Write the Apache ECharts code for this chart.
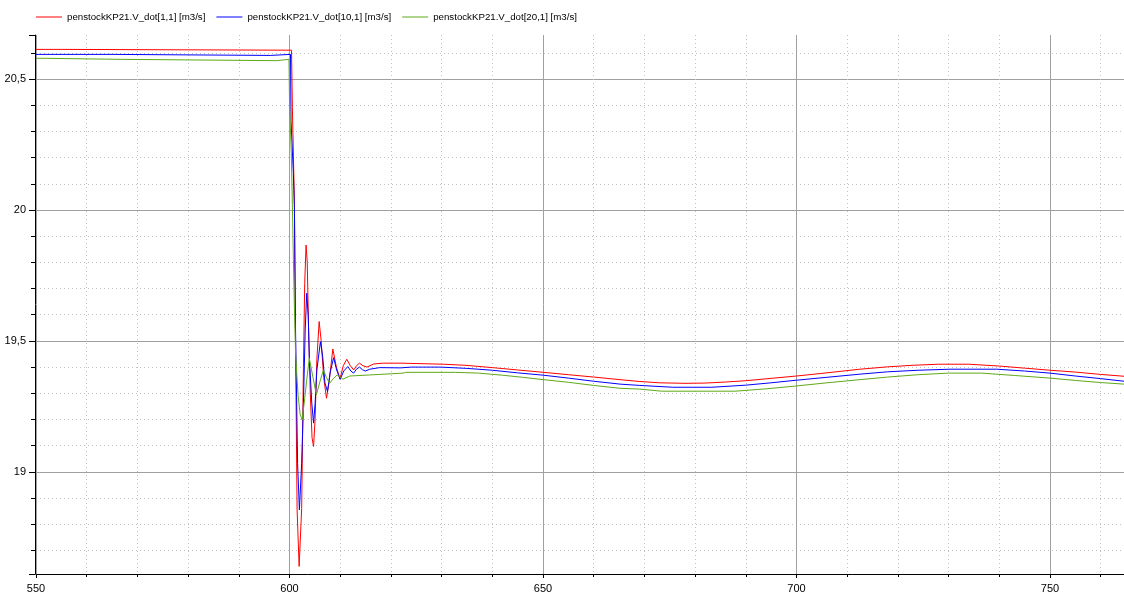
<!DOCTYPE html>
<html>
<head>
<meta charset="utf-8">
<script src="https://cdn.jsdelivr.net/npm/echarts@6/dist/echarts.min.js"></script>
<style>
  html, body { margin: 0; padding: 0; background: #fff; }
  #chart { width: 1124px; height: 596px; }
</style>
</head>
<body>
<div id="chart"></div>
<script>
// series names as in the legend
const seriesNames = [
  'penstockKP21.V_dot[1,1] [m3/s]',
  'penstockKP21.V_dot[10,1] [m3/s]',
  'penstockKP21.V_dot[20,1] [m3/s]'
];
const seriesColors = ['#ff0000', '#0000ff', '#5fa818'];

// [time s, flow m3/s]
const flowNode1 = [
  [550, 20.613], [555.3, 20.613], [555.4, 20.610], [600.4, 20.610], [600.5, 20.612],
  [600.57, 20.39], [600.97, 20.03], [601.16, 19.56], [601.5, 18.855], [601.9, 18.639],
  [602.2, 18.639], [602.4, 18.86], [602.75, 19.40], [603.0, 19.72], [603.27, 19.866],
  [603.5, 19.80], [603.75, 19.56], [604.1, 19.30], [604.45, 19.13], [604.75, 19.097],
  [605.05, 19.20], [605.4, 19.43], [605.85, 19.574], [606.25, 19.50], [606.75, 19.36],
  [607.3, 19.281], [607.85, 19.35], [608.55, 19.469], [609.25, 19.40], [609.95, 19.354],
  [610.6, 19.405], [611.3, 19.430], [612.0, 19.405], [612.65, 19.389], [613.3, 19.407],
  [613.8, 19.415], [614.5, 19.405], [615.3, 19.400], [616.6, 19.412], [618.5, 19.415],
  [622, 19.415], [630.3, 19.411], [634.6, 19.407], [640, 19.398], [645, 19.389],
  [650.1, 19.380], [655, 19.371], [660, 19.362], [665.2, 19.352], [669.1, 19.345],
  [673, 19.340], [678, 19.338], [682, 19.339], [686, 19.343], [690, 19.348],
  [695, 19.357], [700, 19.366], [705, 19.376], [712.5, 19.392], [718, 19.401],
  [723, 19.407], [728, 19.411], [734, 19.411], [740, 19.404], [745, 19.396],
  [750, 19.388], [755, 19.381], [760, 19.372], [764.6, 19.365]
];

const flowNode10 = [
  [550, 20.594], [565, 20.594], [565.1, 20.590], [596.2, 20.590], [596.3, 20.594],
  [600.2, 20.594], [600.3, 20.34], [600.76, 20.14], [600.97, 20.01], [601.16, 19.58],
  [601.6, 19.033], [601.95, 18.855], [602.3, 18.855], [602.4, 19.033], [602.75, 19.262],
  [603.1, 19.542], [603.4, 19.682], [603.7, 19.593], [603.9, 19.440], [604.4, 19.262],
  [604.75, 19.186], [605.05, 19.262], [605.4, 19.389], [606.1, 19.497], [606.55, 19.440],
  [607.0, 19.339], [607.5, 19.307], [608.0, 19.377], [608.7, 19.436], [609.3, 19.389],
  [610.0, 19.354], [610.7, 19.385], [611.5, 19.402], [612.1, 19.385], [612.65, 19.377],
  [613.2, 19.392], [613.8, 19.400], [614.4, 19.390], [614.95, 19.385], [615.85, 19.392],
  [617.8, 19.398], [621.9, 19.397], [624, 19.400], [629.8, 19.400], [635, 19.395],
  [640, 19.388], [645, 19.378], [650.1, 19.369], [655, 19.358], [660, 19.346],
  [665.2, 19.335], [669.1, 19.330], [675.6, 19.323], [683.3, 19.323], [690, 19.331],
  [695, 19.340], [700, 19.350], [706, 19.361], [712.5, 19.373], [718, 19.382],
  [724, 19.388], [730.3, 19.392], [739.5, 19.392], [745, 19.385], [750, 19.377],
  [755, 19.366], [760, 19.356], [764.6, 19.346]
];

const flowNode20 = [
  [550, 20.579], [551.8, 20.579], [551.9, 20.575], [566.9, 20.575], [567, 20.570],
  [597.5, 20.570], [597.6, 20.575], [599.9, 20.575], [600.0, 20.413], [600.35, 20.218],
  [600.57, 20.02], [600.77, 19.81], [600.97, 19.626], [601.2, 19.45], [601.7, 19.29],
  [602.1, 19.22], [602.5, 19.198], [603.0, 19.28], [603.4, 19.351], [603.9, 19.434],
  [604.35, 19.389], [605.3, 19.294], [606.1, 19.351], [606.7, 19.389], [607.3, 19.36],
  [607.9, 19.338], [608.6, 19.355], [609.4, 19.370], [610.55, 19.354], [611.9, 19.366],
  [615.85, 19.370], [622.4, 19.377], [622.9, 19.380], [632.7, 19.380], [637.3, 19.377],
  [642, 19.369], [646, 19.361], [650.1, 19.352], [655, 19.342], [660, 19.330],
  [665.2, 19.319], [669.1, 19.316], [673.4, 19.308], [687.9, 19.308], [694, 19.317],
  [700, 19.328], [706, 19.340], [712.5, 19.352], [718, 19.362], [724, 19.371],
  [730, 19.377], [736.5, 19.377], [743, 19.368], [750, 19.358], [755, 19.349],
  [760, 19.341], [764.6, 19.335]
];

const timeRange = [550, 764.6];
const flowRange = [18.61, 20.668];

const chart = echarts.init(document.getElementById('chart'));

const allData = [flowNode1, flowNode10, flowNode20];

const option = {
  animation: false,
  textStyle: { fontFamily: 'Liberation Sans', color: '#000' },
  legend: {
    left: 36,
    top: 12,
    padding: 0,
    icon: 'rect',
    itemWidth: 26,
    itemHeight: 1,
    itemGap: 11,
    textStyle: { fontSize: 9.7, color: '#000' },
    data: seriesNames
  },
  grid: { left: 36, right: 0, top: 35, bottom: 22 },
  xAxis: {
    type: 'value',
    min: timeRange[0],
    max: timeRange[1],
    interval: 50,
    axisLine: { onZero: false, lineStyle: { color: '#000' } },
    axisTick: { length: 4, lineStyle: { color: '#000' } },
    minorTick: { show: true, splitNumber: 5, length: 3, lineStyle: { color: '#000' } },
    axisLabel: { color: '#000', fontSize: 11, margin: 9, showMaxLabel: false },
    splitLine: { show: true, showMaxLine: false, lineStyle: { color: '#a0a0a0' } },
    minorSplitLine: { show: true, lineStyle: { color: '#c0c0c0', type: [1, 3] } }
  },
  yAxis: {
    type: 'value',
    min: flowRange[0],
    max: flowRange[1],
    splitNumber: 4,
    offset: 1,
    axisLine: { show: true, onZero: false, lineStyle: { color: '#000' } },
    axisTick: { show: true, length: 6, lineStyle: { color: '#000' } },
    minorTick: { show: true, splitNumber: 5, length: 4, lineStyle: { color: '#000' } },
    axisLabel: {
      color: '#000',
      fontSize: 11,
      margin: 9,
      showMinLabel: false,
      showMaxLabel: false,
      formatter: v => String(v).replace('.', ',')
    },
    splitLine: { show: true, showMaxLine: false, showMinLine: false, lineStyle: { color: '#a0a0a0' } },
    minorSplitLine: { show: true, lineStyle: { color: '#c0c0c0', type: [1, 3] } }
  },
  series: seriesNames.map((name, i) => ({
    name: name,
    type: 'line',
    data: allData[i],
    symbol: 'none',
    showSymbol: false,
    color: seriesColors[i],
    lineStyle: { width: 1, color: seriesColors[i] }
  }))
};

chart.setOption(option);
</script>
</body>
</html>
